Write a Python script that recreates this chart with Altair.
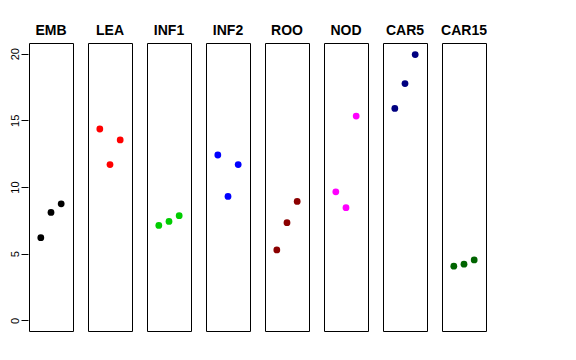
import altair as alt
import pandas as pd

panels = ["EMB", "LEA", "INF1", "INF2", "ROO", "NOD", "CAR5", "CAR15"]
colors = ["#000000", "#FF0000", "#00CD00", "#0000FF", "#8B0000", "#FF00FF", "#000080", "#006400"]
positions = [1, 2, 3]
emb = [6.2, 8.09, 8.74]
lea = [14.35, 11.68, 13.53]
inf1 = [7.12, 7.42, 7.85]
inf2 = [12.4, 9.29, 11.68]
roo = [5.28, 7.32, 8.92]
nod = [9.64, 8.45, 15.32]
car5 = [15.89, 17.76, 19.93]
car15 = [4.06, 4.21, 4.53]

series = [emb, lea, inf1, inf2, roo, nod, car5, car15]
rows = []
for p, vals in zip(panels, series):
    for x, v in zip(positions, vals):
        rows.append({"panel": p, "pos": x, "value": v})
df = pd.DataFrame(rows)

base = alt.Chart(df).mark_circle(size=46, opacity=1).encode(
    x=alt.X("pos:Q", scale=alt.Scale(domain=[-0.16, 4.16], nice=False, zero=False), axis=None),
    y=alt.Y(
        "value:Q",
        scale=alt.Scale(domain=[-0.8, 20.8], nice=False, zero=False),
        axis=alt.Axis(
            values=[0, 5, 10, 15, 20], grid=False, domain=False, tickSize=7,
            tickColor="black", labelAngle=270, labelAlign="center",
            labelBaseline="bottom", labelPadding=1, labelFontSize=11,
            labelColor="black", labelFont="Liberation Sans", title=None,
        ),
    ),
    color=alt.Color("panel:N", scale=alt.Scale(domain=panels, range=colors), legend=None),
).properties(width=44, height=288)

chart = base.facet(
    column=alt.Column(
        "panel:N", sort=panels,
        header=alt.Header(
            title=None, labelFontSize=14, labelFontWeight="bold",
            labelFont="Liberation Sans", labelColor="black", labelPadding=4,
        ),
    )
).configure_facet(spacing=13).configure_view(
    stroke="black", strokeWidth=1
).properties(padding={"left": 0, "top": 16, "right": 0, "bottom": 0})

chart.save("out.html", embed_options={"renderer": "svg", "actions": False})
